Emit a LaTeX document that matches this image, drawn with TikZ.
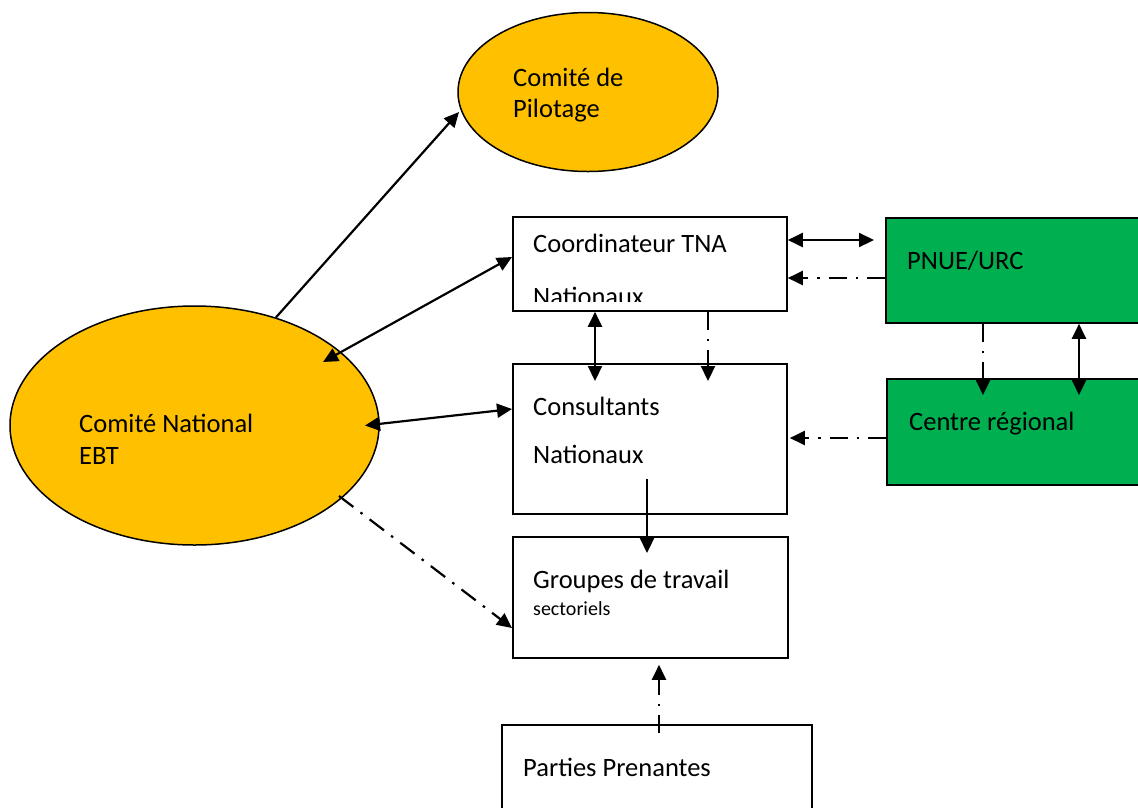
\documentclass[tikz,border=0pt]{standalone}
\usepackage{fontspec}
\setmainfont{Carlito}
\usetikzlibrary{arrows.meta,shapes.geometric}
\definecolor{ebtyellow}{HTML}{FFC000}
\definecolor{ebtgreen}{HTML}{00B050}

\tikzset{
  committee/.style={ellipse, draw=black, line width=1.5pt, fill=ebtyellow, inner sep=0pt},
  whitebox/.style={rectangle, draw=black, line width=1.8pt, fill=white, inner sep=0pt, anchor=north west},
  greenbox/.style={rectangle, draw=black, line width=1.8pt, fill=ebtgreen, inner sep=0pt, anchor=north west},
  lbl/.style={anchor=base west, inner sep=0pt, font=\fontsize{26.5}{32}\selectfont},
  smalllbl/.style={anchor=base west, inner sep=0pt, font=\fontsize{20}{24}\selectfont},
  tip/.style={Triangle[length=15pt,width=14pt]},
  link/.style={line width=2.2pt, -{Triangle[length=15pt,width=14pt]}},
  twoway/.style={line width=2.2pt, {Triangle[length=15pt,width=14pt]}-{Triangle[length=15pt,width=14pt]}},
  dashdot/.style={line width=2.2pt, dash pattern=on 18pt off 9pt on 2.5pt off 9pt, -{Triangle[length=15pt,width=14pt]}},
}

\begin{document}
\begin{tikzpicture}[x=1pt,y=-1pt]
\useasboundingbox (0,0) rectangle (1138,807);
\clip (0,0) rectangle (1138,807);

% committees
\node[committee, minimum width=260pt, minimum height=159pt] (pilot) at (588,92) {};
\node[committee, minimum width=369pt, minimum height=239pt] (nat) at (194.5,425.5) {};

% boxes
\node[whitebox, minimum width=274pt, minimum height=94pt]  (coord)   at (512,216) {};
\node[whitebox, minimum width=274pt, minimum height=150pt] (cons)    at (512,363) {};
\node[whitebox, minimum width=275pt, minimum height=121pt] (grp)     at (512,536) {};
\node[whitebox, minimum width=310pt, minimum height=120pt] (parties) at (501,724) {};
\node[greenbox, minimum width=300pt, minimum height=105pt] (pnue)    at (885,217) {};
\node[greenbox, minimum width=300pt, minimum height=106pt] (centre)  at (886,378) {};

% labels
\node[lbl] (pilotA) at (513,86)  {Comité de};
\node[lbl] (pilotB) at (513,117) {Pilotage};
\node[lbl] (natA)   at (79,432)  {Comité National};
\node[lbl] (natB)   at (79,464)  {EBT};
\node[lbl] (coordA) at (533,252) {Coordinateur TNA};
\begin{scope}
  \clip (512,216) rectangle (786,301);
  \node[lbl] (coordB) at (533,305) {Nationaux};
\end{scope}
\node[lbl] (consA)  at (533,415) {Consultants};
\node[lbl] (consB)  at (533,463) {Nationaux};
\node[lbl] (grpA)   at (533,588) {Groupes de travail};
\node[smalllbl] (grpB) at (533,615) {sectoriels};
\node[lbl] (partA)  at (523,776) {Parties Prenantes};
\node[lbl] (pnueA)  at (907,269) {PNUE/URC};
\node[lbl] (centA)  at (909,430) {Centre régional};

% connectors
\draw[link] (nat.53) -- ([xshift=-129pt,yshift=-20pt]pilot.center);
\draw[twoway] ([xshift=128.5pt,yshift=63.5pt]nat.center) -- ([yshift=-41pt]coord.north west);
\draw[twoway] ([xshift=170.5pt]nat.center) -- ([yshift=-46pt]cons.north west);
\draw[dashdot] ([xshift=144.5pt,yshift=-70.5pt]nat.center) -- ([yshift=-92pt]grp.north west);

\draw[twoway] ([yshift=-24pt]coord.north east) -- ([xshift=-11pt,yshift=-23pt]pnue.north west);
\draw[dashdot] ([yshift=-61pt]pnue.north west) -- ([yshift=-62pt]coord.north east);

\draw[twoway] ([xshift=83pt]coord.south west) -- ([xshift=83pt,yshift=-18pt]cons.north west);
\draw[dashdot] ([xshift=196pt]coord.south west) -- ([xshift=196pt,yshift=-18pt]cons.north west);

\draw[dashdot] ([xshift=98pt]pnue.south west) -- ([xshift=97pt,yshift=-17pt]centre.north west);
\draw[twoway] ([xshift=194pt]pnue.south west) -- ([xshift=193pt,yshift=-17pt]centre.north west);

\draw[dashdot] ([yshift=-60pt]centre.north west) -- ([xshift=2pt,yshift=-75pt]cons.north east);

\draw[link] ([xshift=135pt,yshift=36pt]cons.south west) -- ([xshift=135pt,yshift=-17pt]grp.north west);
\draw[dashdot] ([xshift=158pt,yshift=-9pt]parties.north west) -- ([xshift=147pt,yshift=-6pt]grp.south west);
\end{tikzpicture}
\end{document}
